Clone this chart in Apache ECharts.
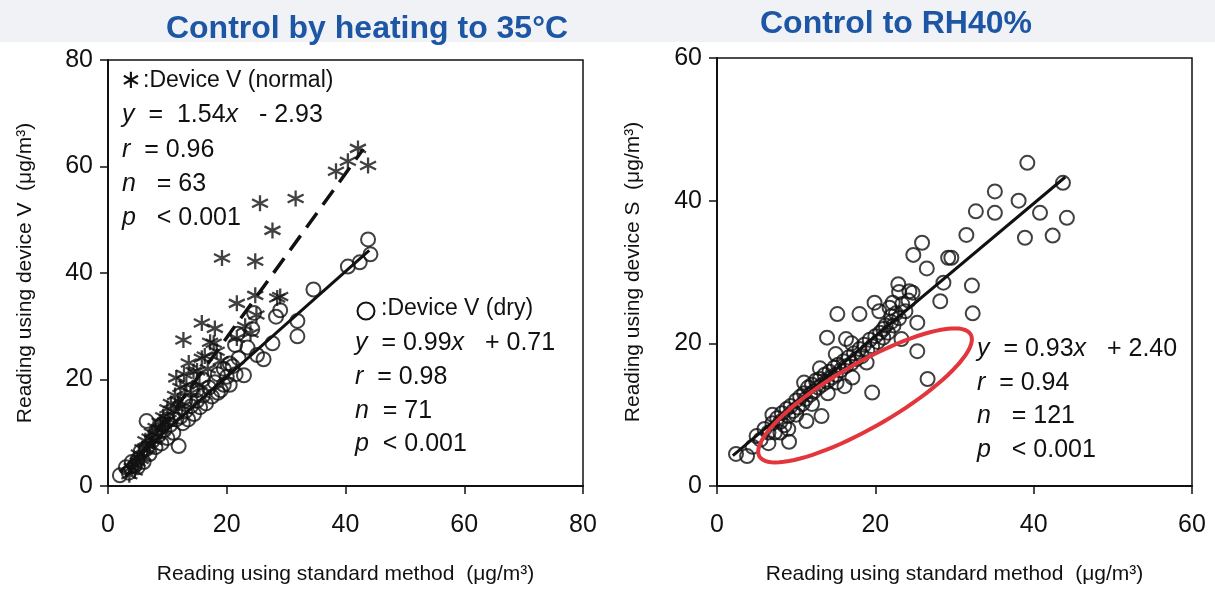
<!DOCTYPE html>
<html><head><meta charset="utf-8">
<script src="https://cdn.jsdelivr.net/npm/echarts@6/dist/echarts.min.js"></script>
<style>html,body{margin:0;padding:0;background:#fff}#c{width:1215px;height:590px}</style>
</head><body><div id="c"></div>
<script>
// ---- Left panel: Control by heating to 35°C ----
const normalPts = [
 [3.6,2.1],[19.2,42.8],[25.6,53.1],[31.6,54],[27.7,48],[24.8,42.2],[38.4,59.1],[40.4,61],[42.1,63.4],[43.8,60.2],
 [21.7,34.3],[24.8,35.8],[28.5,35.3],[25,32.1],[23.1,30],[15.8,30.6],[18,29.6],[12.7,27.4],[21.7,27.8],[24,28.7],[29,35.6],
 [4,3.5],[4.5,2.8],[5,4.5],[5.2,6],[5.5,5],[5.8,7],[6,5.5],[6.3,8.5],[6.6,7],[7,9],[7,7.5],[7.4,10],[7.8,8.5],[8,11],
 [8.3,9.5],[8.7,12],[9,10.5],[9.3,13],[9.6,12],[10,14.5],[10.2,12.5],[10.6,15.5],[11,14],[11.3,17],[11.5,20.3],[11.8,16],
 [12.2,18.5],[12.5,15],[12.8,21],[13.2,19],[13.6,23.1],[14,17.5],[14.4,21.5],[15,21.6],[15.4,19],[15.8,24],[16.3,24.4],
 [16.8,22],[17.2,27],[17.8,26.8],[18.3,25.3],[19,23.5]
];
const dryPts = [
 [43.8,46.3],[44.2,43.5],[42.4,42],[40.4,41.2],[34.6,36.9],[31.9,31],[31.9,28.1],[29,33],[28.3,31.8],[27.7,26.8],
 [26.2,23.8],[25.1,24.6],[22.9,20.8],[21.4,26.5],[24.6,32.5],[24.3,29.5],[21.8,28.6],[23.5,26],[20.5,23],[19.5,19],[18.5,17.5],
 [2,2],[3,3.5],[3.5,2.5],[4,4.5],[4.5,3.8],[5,5],[5.5,6.5],[6,4.5],[6.5,12.2],[6.5,7],[7,6],[7.5,8.5],[8,7.3],[8.5,9.5],
 [9,8],[9.5,10.5],[10,9],[10.5,11.5],[11,10],[11.5,12.5],[11.9,7.5],[12.2,13],[12.6,11.8],[13,14],[13.5,12.5],[14,15],
 [14.5,13.5],[15,16],[15.5,14.8],[16,17],[16.5,15.5],[17,18.5],[17.5,16.8],[18,19.5],[18.5,21],[19,18],[19.5,22],[20,20.5],
 [20.5,19],[21,22.5],[21.5,21],[22,24],[16,20],[14,18],[9,11.5],[8,10],[10,12.5],[13,16],[15,18],[5,3.5]
];
const normalFit = {slope: 1.54, intercept: -2.93, from: 3, to: 43};
const dryFit = {slope: 0.99, intercept: 0.71, from: 2, to: 44};
// ---- Right panel: Control to RH40% ----
const rhPts = [
 [39.2,45.3],[43.7,42.5],[35.1,41.3],[38.1,40],[32.7,38.5],[35.1,38.3],[40.8,38.3],[44.2,37.6],[38.9,34.8],[42.4,35.1],
 [31.5,35.2],[25.9,34.1],[24.8,32.4],[29.2,32],[29.6,32],[26.5,30.5],[28.6,28.5],[32.2,28.1],[28.2,25.9],[32.3,24.2],
 [22.9,28.3],[24.3,27.3],[25.3,22.9],[19.9,25.7],[18,24.1],[22.2,25.7],[21.8,25],[25.3,18.9],[26.6,15],[19.6,13.1],
 [23.3,20.6],[15.2,24.1],[13.9,20.8],[16.3,20.6],[16.1,14],[17.1,15.2],[13.2,9.8],[11.3,9.1],[9.1,6.2],[3.8,4.2],
 [2.4,4.5],[23,27.2],[24.7,27.1],[20.5,24.5],[18.9,17.3],[15.1,14.5],[21,22],[22,23],
 [5,7],[5.5,6.5],[6,8],[6.5,7.5],[7,8.8],[7.3,7.5],[7.6,9.5],[8,9],[8.2,10.2],[8.5,8.5],
 [8.8,10.8],[9,9.8],[9.3,11.2],[9.6,10.5],[10,12],[10.2,11],[10.5,12.5],[10.8,11.5],[11,13],[11.2,12.2],
 [11.5,13.8],[11.8,12.8],[12,14.2],[12.2,13.2],[12.5,14.8],[12.8,13.8],[13,15],[13.3,14.2],[13.6,15.6],[13.9,14.6],
 [14.2,16],[14.5,15.2],[14.8,16.6],[15,15.6],[15.3,17],[15.6,16.2],[16,17.5],[16.3,16.8],[16.6,18],[17,17.2],
 [17.3,18.6],[17.6,17.8],[18,19.2],[18.3,18.2],[18.6,19.8],[19,19],[19.3,20.5],[19.6,19.6],[20,21],[20.3,20.2],
 [20.6,21.5],[21,20.8],[21.3,22.5],[21.6,21.5],[22,23.8],[22.3,22.5],[22.6,24.2],[23,23.5],[23.4,25.5],[23.8,24.5],
 [24.2,26],[10,10],[12,11.5],[14,13],[8,7.5],[6.5,6],[9,8],[11,14.5],[13,16.5],[15,18.5],
 [17,20],[7,10],[4.5,5.5]
];
const rhFit = {slope: 0.93, intercept: 2.40, from: 2, to: 44};
const ellipseCenter = [18.7, 12.7];

const leftXTicks = [0, 80, 20];   // min, max, interval
const leftYTicks = [0, 80, 20];
const rightXTicks = [0, 60, 20];
const rightYTicks = [0, 60, 20];

const titles = ['Control by heating to 35°C', 'Control to RH40%'];
const xName = 'Reading using standard method  (μg/m³)';
const yNames = ['Reading using device V  (μg/m³)', 'Reading using device S  (μg/m³)'];

function fitLine(f){ return [[f.from, f.slope*f.from+f.intercept],[f.to, f.slope*f.to+f.intercept]]; }

const FONT = "'Liberation Sans', Arial, sans-serif";
const ASTER = 'path://M5,0L5,10M0.67,2.5L9.33,7.5M0.67,7.5L9.33,2.5';

function xAxis(gi, t){
  return {gridIndex: gi, type:'value', min:t[0], max:t[1], interval:t[2],
    axisLine:{show:true, onZero:false, lineStyle:{color:'#111', width:2}},
    axisTick:{show:true, inside:false, length:8, lineStyle:{color:'#111', width:1.5}},
    axisLabel:{fontSize:25, color:'#111', margin:27, fontFamily:FONT},
    splitLine:{show:false},
    name: xName, nameLocation:'middle', nameGap:78,
    nameTextStyle:{fontSize:21, color:'#111', fontFamily:FONT}};
}
function yAxis(gi, t, name, gap){
  return {gridIndex: gi, type:'value', min:t[0], max:t[1], interval:t[2],
    axisLine:{show:true, onZero:false, lineStyle:{color:'#111', width:2}},
    axisTick:{show:true, inside:false, length:8, lineStyle:{color:'#111', width:1.5}},
    axisLabel:{fontSize:25, color:'#111', margin:15, fontFamily:FONT},
    splitLine:{show:false},
    name: name, nameLocation:'middle', nameGap:gap, nameRotate:90,
    nameTextStyle:{fontSize:21, color:'#111', fontFamily:FONT}};
}

const chart = echarts.init(document.getElementById('c'), null, {renderer:'canvas'});
const option = {
  backgroundColor:'#fff',
  animation:false,
  title:[
    {text:titles[0], left:362, top:8, textAlign:'center', textStyle:{fontSize:32, fontWeight:'bold', color:'#1c56a4', fontFamily:FONT}},
    {text:titles[1], left:891, top:3, textAlign:'center', textStyle:{fontSize:32, fontWeight:'bold', color:'#1c56a4', fontFamily:FONT}}
  ],
  grid:[
    {left:108, top:60, width:475, height:428, show:true, borderColor:'#111', borderWidth:1.5, backgroundColor:'#fff'},
    {left:717, top:58, width:475, height:429, show:true, borderColor:'#111', borderWidth:1.5, backgroundColor:'#fff'}
  ],
  xAxis:[xAxis(0,leftXTicks), xAxis(1,rightXTicks)],
  yAxis:[yAxis(0,leftYTicks,yNames[0],72), yAxis(1,rightYTicks,yNames[1],73)],
  series:[
    {type:'scatter', xAxisIndex:0, yAxisIndex:0, data:normalPts, symbol:ASTER, symbolSize:16,
      itemStyle:{color:'transparent', borderColor:'#111', borderWidth:2.3}},
    {type:'scatter', xAxisIndex:0, yAxisIndex:0, data:dryPts, symbol:'circle', symbolSize:14,
      itemStyle:{color:'transparent', borderColor:'#111', borderWidth:2}},
    {type:'line', xAxisIndex:0, yAxisIndex:0, data:fitLine(normalFit), symbol:'none',
      lineStyle:{color:'#111', width:3.5, type:[18,10]}},
    {type:'line', xAxisIndex:0, yAxisIndex:0, data:fitLine(dryFit), symbol:'none',
      lineStyle:{color:'#111', width:3}},
    {type:'scatter', xAxisIndex:1, yAxisIndex:1, data:rhPts, symbol:'circle', symbolSize:14,
      itemStyle:{color:'transparent', borderColor:'#111', borderWidth:2}},
    {type:'line', xAxisIndex:1, yAxisIndex:1, data:fitLine(rhFit), symbol:'none',
      lineStyle:{color:'#111', width:3}}
  ]
};
chart.setOption(option);

// Annotations
const rich = {
  n:{fontSize:25, fontFamily:FONT, color:'#111'},
  i:{fontSize:25, fontFamily:FONT, color:'#111', fontStyle:'italic'},
  s:{fontSize:23, fontFamily:FONT, color:'#111'}
};
function txt(x, y, s){
  return {type:'text', left:x, top:y-14, z:100, style:{text:s, rich:rich, fontSize:25, fontFamily:FONT, fill:'#111'}};
}
// ellipse (annotation) around data center
const c = chart.convertToPixel({gridIndex:1}, ellipseCenter);
const a = 122, b = 32, ang = 30*Math.PI/180;
const pts = [];
for (let k=0;k<90;k++){
  const t = k/90*2*Math.PI;
  const u = a*Math.cos(t), v = b*Math.sin(t);
  pts.push([c[0] + u*Math.cos(ang) + v*Math.sin(ang), c[1] - u*Math.sin(ang) + v*Math.cos(ang)]);
}
chart.setOption({graphic:[
  {type:'rect', z:-10, shape:{x:0,y:0,width:1215,height:42}, style:{fill:'#f1f2f6'}},
  {type:'text', left:120, top:68, z:100, style:{text:'∗', fontSize:26, fontFamily:'DejaVu Sans', fill:'#111'}},
  txt(143, 83, '{s|:Device V (normal)}'),
  txt(122, 117, '{i|y}{n|  =  1.54}{i|x}{n|   - 2.93}'),
  txt(122, 152, '{i|r}{n|  = 0.96}'),
  txt(122, 186, '{i|n}{n|   = 63}'),
  txt(122, 220, '{i|p}{n|   < 0.001}'),
  {type:'circle', shape:{cx:366, cy:311, r:8.5}, z:100, style:{fill:'none', stroke:'#111', lineWidth:2}},
  txt(381, 311, '{s|:Device V (dry)}'),
  txt(355, 345, '{i|y}{n|  = 0.99}{i|x}{n|   + 0.71}'),
  txt(355, 379, '{i|r}{n|  = 0.98}'),
  txt(355, 413, '{i|n}{n|  = 71}'),
  txt(355, 446, '{i|p}{n|  < 0.001}'),
  txt(977, 351, '{i|y}{n|  = 0.93}{i|x}{n|   + 2.40}'),
  txt(977, 385, '{i|r}{n|  = 0.94}'),
  txt(977, 418, '{i|n}{n|   = 121}'),
  txt(977, 452, '{i|p}{n|   < 0.001}'),
  {type:'polygon', z:90, shape:{points:pts}, style:{fill:'none', stroke:'#e3363c', lineWidth:4}}
]});
</script></body></html>
